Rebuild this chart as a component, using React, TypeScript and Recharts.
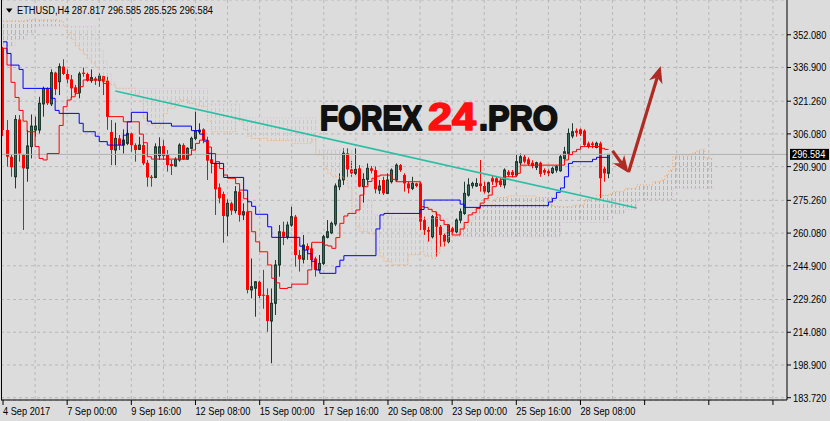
import React from "react";
import {
  ComposedChart,
  Bar,
  Line,
  Area,
  XAxis,
  YAxis,
  CartesianGrid,
  ReferenceLine,
} from "recharts";

const FONT = "'Liberation Sans', Arial, sans-serif";
const NARROW = 0.84; // MT4 uses a narrow bitmap font, squeeze Liberation Sans to match
const BG = "#DCDCDC";
const TOTAL_BARS = 196; // 152 candles + chart shift to the right edge

// ETHUSD H4 candles, bar 0 = left edge of the window
const openP = [
  345.8, 307.9, 295.5, 286.2, 312.8, 296.3, 290.1, 300.2, 307.9, 307.9,
  320.0, 327.2, 320.0, 334.5, 330.3, 337.3, 333.9, 331.4, 327.7, 325.2,
  334.5, 333.9, 330.8, 331.8, 330.8, 332.9, 330.8, 307.0, 298.6, 304.0,
  300.9, 301.7, 306.3, 300.9, 298.9, 300.9, 292.7, 286.2, 285.9, 296.0,
  300.5, 296.3, 292.1, 291.2, 294.0, 300.9, 294.4, 299.4, 304.0, 307.0,
  308.2, 303.2, 294.3, 292.7, 281.3, 278.2, 268.0, 273.9, 270.5, 279.3,
  268.5, 270.0, 233.7, 234.5, 237.5, 231.5, 231.3, 219.3, 227.5, 245.3,
  260.7, 258.4, 263.8, 267.7, 249.9, 247.9, 254.1, 253.0, 248.3, 243.0,
  246.0, 258.1, 260.2, 264.3, 281.6, 284.7, 297.1, 289.6, 287.8, 290.1,
  281.6, 285.0, 290.1, 289.3, 280.0, 284.7, 278.5, 283.9, 284.7, 291.6,
  287.0, 283.1, 280.8, 283.1, 283.1, 266.1, 261.5, 258.4, 267.7, 263.0,
  259.2, 256.1, 262.3, 260.7, 266.1, 269.2, 277.7, 282.1, 281.9, 283.1,
  281.9, 279.3, 285.5, 285.5, 284.5, 282.4, 288.5, 288.5, 287.0, 292.7,
  295.5, 294.3, 292.7, 290.6, 292.7, 289.3, 288.8, 288.1, 289.3, 289.0,
  294.7, 297.0, 305.1, 307.6, 308.2, 307.6, 301.7, 301.7, 299.8, 301.7,
  290.0, 287.817,
];
const highP = [
  346.5, 312.5, 296.3, 314.8, 314.8, 296.8, 307.9, 315.1, 314.1, 323.3,
  328.0, 327.7, 336.0, 334.9, 338.8, 340.7, 336.0, 333.4, 328.8, 334.9,
  336.9, 334.5, 336.0, 332.6, 334.2, 332.9, 332.6, 312.5, 311.3, 305.6,
  308.2, 307.9, 306.6, 301.7, 304.8, 302.5, 294.0, 287.0, 301.7, 304.5,
  303.2, 298.6, 294.0, 295.2, 301.7, 301.7, 299.9, 304.8, 316.4, 311.0,
  308.7, 304.8, 295.5, 294.0, 283.1, 279.3, 275.7, 274.6, 281.9, 280.8,
  273.9, 270.5, 248.3, 237.8, 238.0, 243.0, 234.4, 234.4, 247.6, 263.8,
  265.4, 265.4, 272.3, 268.5, 252.2, 259.2, 255.3, 255.3, 249.1, 249.9,
  259.2, 266.1, 265.4, 283.1, 287.8, 299.4, 299.4, 293.6, 299.4, 291.6,
  287.8, 292.4, 291.2, 290.9, 284.7, 286.2, 287.8, 290.1, 292.4, 292.1,
  287.8, 283.9, 286.2, 283.4, 283.9, 267.7, 263.0, 268.5, 270.0, 263.8,
  259.9, 264.3, 263.0, 266.9, 271.5, 283.9, 285.5, 283.9, 285.5, 294.0,
  283.9, 283.9, 287.0, 286.5, 285.8, 290.1, 289.3, 289.3, 296.3, 297.0,
  296.3, 295.2, 293.9, 293.2, 293.2, 290.1, 289.6, 290.9, 291.6, 296.3,
  300.1, 308.6, 311.0, 308.6, 308.6, 308.2, 302.5, 302.5, 302.5, 302.5,
  290.9, 296.585,
];
const lowP = [
  305.0, 290.9, 286.2, 280.8, 293.2, 261.5, 283.9, 294.7, 304.8, 306.3,
  314.1, 319.5, 319.0, 324.1, 324.1, 333.4, 329.5, 322.6, 324.1, 322.6,
  332.6, 330.3, 329.8, 328.8, 328.0, 324.1, 308.0, 291.6, 291.6, 298.6,
  297.0, 300.9, 297.8, 293.2, 298.6, 291.6, 281.6, 281.6, 285.5, 294.0,
  294.0, 288.6, 287.0, 290.9, 293.2, 294.0, 294.0, 298.9, 303.2, 306.3,
  301.7, 284.7, 287.8, 268.5, 273.9, 255.6, 258.7, 268.5, 269.2, 265.4,
  266.1, 232.1, 229.8, 221.3, 229.8, 225.0, 214.3, 199.7, 222.1, 239.9,
  254.5, 257.2, 263.0, 244.5, 242.2, 246.0, 247.6, 244.5, 239.9, 242.6,
  245.3, 257.6, 259.6, 263.3, 280.0, 282.4, 286.2, 286.2, 287.0, 281.3,
  274.2, 282.4, 287.8, 278.5, 278.2, 277.7, 278.2, 283.1, 283.9, 288.5,
  279.3, 278.5, 280.0, 281.3, 261.5, 259.2, 256.1, 257.6, 249.1, 253.8,
  253.8, 255.3, 260.0, 260.0, 264.6, 268.5, 277.0, 280.8, 281.6, 279.3,
  278.5, 278.5, 282.4, 282.0, 281.5, 280.8, 286.2, 285.9, 286.2, 291.6,
  292.4, 291.2, 290.1, 289.3, 286.2, 287.0, 286.5, 287.5, 288.1, 288.5,
  294.0, 296.3, 304.0, 304.8, 305.1, 300.5, 299.4, 299.4, 299.4, 276.2,
  283.9, 285.525,
];
const closeP = [
  307.9, 295.5, 290.6, 312.8, 297.0, 290.1, 300.5, 309.7, 309.7, 320.3,
  327.2, 320.3, 334.5, 326.8, 337.3, 333.9, 331.4, 327.2, 325.2, 333.9,
  333.9, 330.8, 332.2, 330.8, 332.9, 330.3, 314.0, 298.6, 304.0, 300.9,
  303.2, 306.3, 300.9, 298.6, 300.9, 292.4, 285.9, 285.6, 300.1, 300.1,
  295.8, 291.6, 291.2, 294.3, 300.9, 294.3, 299.4, 304.0, 307.6, 307.8,
  303.2, 293.7, 292.4, 280.4, 276.2, 268.0, 273.9, 270.5, 279.3, 268.5,
  270.0, 233.7, 235.2, 237.5, 230.9, 231.0, 219.3, 227.5, 245.3, 260.7,
  258.4, 263.8, 267.7, 249.9, 247.9, 254.5, 252.2, 247.6, 243.0, 246.0,
  258.4, 260.7, 264.6, 281.9, 284.7, 297.1, 289.6, 287.8, 289.6, 281.6,
  285.0, 290.1, 289.0, 280.4, 281.9, 278.5, 284.7, 289.3, 291.6, 289.3,
  283.1, 280.8, 283.1, 281.9, 265.4, 261.5, 260.7, 267.7, 263.0, 259.2,
  256.1, 263.8, 260.7, 266.1, 270.0, 278.5, 282.4, 283.1, 283.1, 281.9,
  279.3, 283.4, 283.9, 283.5, 282.4, 289.3, 287.0, 287.0, 293.2, 295.5,
  293.2, 292.1, 291.2, 292.7, 287.5, 288.1, 287.8, 290.1, 290.9, 295.5,
  297.8, 306.3, 307.1, 306.6, 306.0, 300.9, 300.1, 300.9, 301.7, 285.5,
  287.8, 296.584,
];

// Ichimoku Tenkan-sen (red): bar where the level changes, and its value
const tenkanBars = [
  0, 1, 2, 3, 4, 5, 6, 8, 9, 10, 11, 14, 15, 16, 17, 18, 19, 20, 25, 26, 30,
  34, 35, 36, 37, 46, 47, 48, 49, 50, 51, 52, 53, 54, 55, 56, 58, 59, 60, 61,
  62, 63, 64, 66, 67, 68, 69, 71, 72, 76, 77, 80, 81, 82, 83, 84, 85, 86, 88,
  89, 90, 91, 92, 93, 94, 97, 98, 104, 105, 106, 107, 108, 109, 110, 111, 112,
  114, 115, 116, 117, 118, 119, 120, 121, 122, 123, 124, 125, 128, 129, 140,
  141, 142, 143, 144, 149, 150, 151,
];
const tenkanVals = [
  345.8, 338, 330, 323, 317, 312, 307.1, 300.2, 294.7, 294.0, 297.0, 310,
  318.7, 321.8, 323.3, 324.9, 328, 331.1, 329.5, 314.1, 311.7, 306, 302, 295.5,
  294.4, 296.3, 298.6, 301.7, 303.2, 302.5, 300, 297, 293.2, 290, 287, 285.5,
  283, 280, 276, 270.0, 260.7, 256, 251.4, 245.3, 239.1, 237, 234.4, 234.8,
  236.4, 243, 255.8, 254.5, 254.1, 253.0, 258, 264.6, 268, 269.2, 270.8, 277.7,
  281.6, 284, 285.5, 286.5, 287.0, 285, 283.9, 272.3, 272, 271.1, 270, 268.5,
  266, 264, 261, 259.2, 262, 265, 268.5, 269.5, 271.5, 274, 276, 277.7, 281.6,
  283.9, 285, 286.2, 287.8, 291.6, 294.0, 296.5, 297.8, 298.9, 300.2, 299.4,
  298.9, 298.9,
];

// Ichimoku Kijun-sen (blue)
const kijunBars = [
  0, 1, 2, 4, 5, 12, 13, 14, 19, 20, 23, 24, 26, 30, 31, 32, 36, 37, 42, 47,
  49, 50, 51, 52, 55, 60, 61, 62, 63, 66, 67, 74, 75, 76, 77, 78, 79, 83, 84,
  85, 93, 94, 95, 104, 105, 114, 115, 119, 136, 137, 138, 139, 140, 141, 142,
  147, 148, 151,
];
const kijunVals = [
  348.8, 343.4, 338.0, 336.0, 327.2, 322.6, 317.0, 315.6, 311, 307.1, 305,
  302.5, 300.9, 305.5, 311.7, 316.1, 312, 311.0, 309.7, 307.6, 306, 303.2,
  297.1, 292.4, 285.9, 280, 274.6, 272.5, 268.8, 263, 258.1, 254, 252.2, 250.5,
  247, 243, 241.4, 244.5, 247.5, 249.6, 262, 268.5, 269.2, 271, 275.4, 273.5,
  272.0, 272.8, 274.5, 276.2, 279, 281, 286.2, 292.4, 293.2, 294.3, 295.2,
  295.2,
];

// Kumo: Senkou Span A (sandy brown) and B (thistle), shifted 26 bars ahead
const cloudBars = [
  0, 3, 6, 8,
  14, 15, 16, 17, 18, 19, 20, 21, 22,
  23, 24, 25, 26, 27,
  28, 31, 33, 34, 35, 36, 38, 39, 40, 41, 43, 44, 46, 48, 50,
  51, 52, 57, 58,
  59, 60, 61, 62, 66, 72, 77,
  78, 80, 81, 82, 85, 86,
  87, 88, 89, 91,
  92, 93, 94, 95,
  97, 101, 104, 105, 107, 108, 109, 110,
  111, 112, 113, 114, 115, 116, 117, 118, 119, 120, 122, 123, 126, 129, 133, 137,
  139, 142, 145, 148,
  151, 152, 155,
  158, 162, 164, 165, 166,
  167, 168, 171, 172, 173, 174, 175, 177,
];
const spanA = [
  358.5, 358.5, 359.0, 359.0,
  358.5, 356.0, 353.0, 350.0, 347.0, 345.0, 343.0, 341.0, 339.0,
  337.0, 333.0, 331.0, 329.5, 328.8,
  327.2, 327.2, 324.5, 323.3, 313.3, 310.2, 308.7, 310.2, 315.6, 318.0, 320.2, 321.8, 320.2, 319.0, 318.7,
  312.0, 307.1, 307.1, 313.0,
  312.0, 308.0, 305.0, 304.0, 303.0, 301.7, 303.2,
  296.3, 290.0, 287.8, 286.2, 284.5, 281.0,
  270.0, 263.0, 260.7, 259.9,
  259.6, 252.2, 249.1, 246.8,
  245.3, 250.0, 251.4, 249.4, 248.4, 250.7, 253.8, 256.1,
  258.4, 258.4, 259.2, 262.0, 263.8, 266.1, 268.5, 271.1, 272.3, 273.1, 275.4, 276.6, 277.3, 277.3, 276.6, 272.5,
  272.3, 273.0, 275.7, 277.7,
  278.2, 279.3, 280.8,
  282.4, 283.9, 284.7, 287.0, 289.3,
  295.5, 296.3, 296.3, 297.5, 298.3, 298.9, 294.8, 294.8,
];
const spanB = [
  347.0, 350.0, 353.0, 356.0,
  356.0, 356.0, 356.0, 356.0, 356.0, 356.0, 356.0, 356.0, 356.0,
  350.0, 345.0, 340.0, 334.0, 330.0,
  327.2, 327.2, 327.2, 327.2, 327.2, 327.2, 327.2, 327.2, 327.2, 327.2, 327.2, 327.2, 327.2, 327.2, 327.2,
  320.0, 320.0, 320.0, 320.0,
  313.5, 313.5, 313.5, 313.5, 313.5, 313.5, 313.5,
  298.6, 298.6, 298.6, 298.6, 298.6, 298.6,
  275.4, 275.4, 275.4, 275.4,
  268.5, 268.5, 268.5, 268.5,
  266.9, 266.9, 266.9, 266.9, 266.9, 266.9, 266.9, 266.9,
  258.4, 258.4, 258.4, 258.4, 258.4, 258.4, 258.4, 258.4, 258.4, 258.4, 258.4, 258.4, 258.4, 258.4, 258.4, 258.4,
  265.0, 265.0, 265.0, 265.0,
  269.2, 269.2, 271.0,
  275.4, 275.4, 275.4, 275.4, 275.4,
  280.8, 280.8, 280.8, 280.8, 280.8, 280.8, 280.8, 280.8,
];
// which stretch of the cloud is bullish (A over B) or bearish
const cloudSegments = [
  { key: "kumoUp1", from: 0, to: 15, fill: "url(#hatchUp)" },
  { key: "kumoDown", from: 15, to: 111, fill: "url(#hatchDown)" },
  { key: "kumoUp2", from: 111, to: 177, fill: "url(#hatchUp)" },
];

const xLabels = [
  "4 Sep 2017", "7 Sep 00:00", "9 Sep 16:00", "12 Sep 08:00", "15 Sep 00:00",
  "17 Sep 16:00", "20 Sep 08:00", "23 Sep 00:00", "25 Sep 16:00", "28 Sep 08:00",
];
const yTicks = [
  183.72, 198.9, 214.08, 229.26, 244.9, 260.08, 275.26, 290.9, 306.08, 321.26,
  336.9, 352.08,
];

// drawn objects (bar index, price)
const trendLine = [{ bar: 28, price: 326.0 }, { bar: 158, price: 271.7 }];
const arrowUp = [{ bar: 156, price: 288.4 }, { bar: 164, price: 337.6 }];
const arrowDown = [{ bar: 152, price: 298.2 }, { bar: 156, price: 288.0 }];

const last = closeP.length - 1;

const rows: any[] = [];
for (let i = 0; i < TOTAL_BARS; i++) {
  const r: any = { i };
  if (i <= last) {
    r.range = [lowP[i], highP[i]];
    r.o = openP[i];
    r.c = closeP[i];
  }
  rows.push(r);
}
tenkanBars.forEach((b, k) => (rows[b].tenkan = tenkanVals[k]));
kijunBars.forEach((b, k) => (rows[b].kijun = kijunVals[k]));
cloudBars.forEach((b, k) => {
  const a = spanA[k];
  const bb = spanB[k];
  rows[b].spanA = a;
  rows[b].spanB = bb;
  cloudSegments.forEach((s) => {
    if (b >= s.from && b <= s.to) rows[b][s.key] = [Math.min(a, bb), Math.max(a, bb)];
  });
});

function Candle(props: any) {
  const { x, y, width, height, payload } = props;
  if (!payload || payload.range == null) return null;
  const [lo, hi] = payload.range;
  let top = y;
  let h = height;
  if (h < 0) {
    top = y + h;
    h = -h;
  }
  const span = hi - lo || 1;
  const py = (v: number) => top + ((hi - v) / span) * h;
  const cx = Math.floor(x + width / 2);
  const up = payload.c >= payload.o;
  const bTop = py(Math.max(payload.o, payload.c));
  const bBot = py(Math.min(payload.o, payload.c));
  const wick = up ? "#1E3A31" : "#FF0000";
  return (
    <g>
      <line x1={cx + 0.5} x2={cx + 0.5} y1={top} y2={top + h} stroke={wick} strokeWidth={1} />
      {up ? (
        <rect x={cx - 0.5} y={bTop} width={2} height={Math.max(1, bBot - bTop)} fill="#3B6B5A" stroke="#1E3A31" strokeWidth={1} />
      ) : (
        <rect x={cx - 1} y={bTop} width={3} height={Math.max(1, bBot - bTop)} fill="#FF0000" />
      )}
    </g>
  );
}

const ARROW = "#AE2A22";
function ArrowShape(props: any) {
  const { x1, y1, x2, y2 } = props;
  const dx = x2 - x1;
  const dy = y2 - y1;
  const len = Math.hypot(dx, dy) || 1;
  const ux = dx / len;
  const uy = dy / len;
  const head = 17;
  const half = 7;
  const bx = x2 - ux * head;
  const by = y2 - uy * head;
  const nx = bx + ux * 5;
  const ny = by + uy * 5;
  const px = -uy;
  const py = ux;
  return (
    <g>
      <line x1={x1} y1={y1} x2={nx} y2={ny} stroke={ARROW} strokeWidth={3.2} />
      <polygon
        points={`${x2},${y2} ${bx + px * half},${by + py * half} ${nx},${ny} ${bx - px * half},${by - py * half}`}
        fill={ARROW}
      />
    </g>
  );
}

function NarrowText({ x, y, children, fill = "#000", dy }: any) {
  return (
    <text
      transform={`translate(${x},${y}) scale(${NARROW},1)`}
      dy={dy}
      fontSize={11}
      fontFamily={FONT}
      fill={fill}
      textAnchor="start"
    >
      {children}
    </text>
  );
}

function PriceTag(props: any) {
  const vb = props.viewBox || {};
  const x = (vb.x || 0) + (vb.width || 0) + 3;
  const y = vb.y || 0;
  return (
    <g>
      <rect x={x} y={y - 5.5} width={39} height={11} fill="#000" />
      <NarrowText x={x + 2} y={y + 4} fill="#fff">
        {closeP[last].toFixed(3)}
      </NarrowText>
    </g>
  );
}

function XTick(props: any) {
  const { x, y, payload } = props;
  const idx = Number(payload.value);
  const label = idx % 16 === 0 ? xLabels[idx / 16] || "" : "";
  return (
    <NarrowText x={x} y={y + 8}>
      {label}
    </NarrowText>
  );
}

function YTick(props: any) {
  const { x, y, payload } = props;
  return (
    <NarrowText x={x} y={y} dy="0.355em">
      {Number(payload.value).toFixed(3)}
    </NarrowText>
  );
}

export default function App() {
  const header = `ETHUSD,H4  ${openP[last].toFixed(3)} ${highP[last].toFixed(3)} ${lowP[last].toFixed(3)} ${closeP[last].toFixed(3)}`;
  return (
    <div style={{ position: "absolute", left: 0, top: 0, width: 830, height: 421, background: BG, overflow: "hidden" }}>
      <svg width={0} height={0} style={{ position: "absolute" }}>
        <defs>
          <pattern id="hatchUp" patternUnits="userSpaceOnUse" width={4} height={6} x={1}>
            <line x1={2.5} y1={0} x2={2.5} y2={4} stroke="#F4A460" strokeWidth={1} />
          </pattern>
          <pattern id="hatchDown" patternUnits="userSpaceOnUse" width={4} height={6} x={1}>
            <line x1={2.5} y1={0} x2={2.5} y2={4} stroke="#D8BFD8" strokeWidth={1} />
          </pattern>
        </defs>
      </svg>
      <ComposedChart
        width={830}
        height={421}
        data={rows}
        margin={{ top: 0, right: 0, bottom: 0, left: 1 }}
        barCategoryGap={0}
      >
        <CartesianGrid
          stroke="#B8B8B8"
          strokeDasharray="3 3"
          verticalCoordinatesGenerator={({ offset }: any) => {
            const out: number[] = [];
            for (let b = 8; b < TOTAL_BARS; b += 8) out.push(offset.left + ((b + 0.5) * offset.width) / TOTAL_BARS);
            return out;
          }}
        />
        <XAxis
          dataKey="i"
          interval={15}
          height={21}
          tickSize={5}
          tick={<XTick />}
          axisLine={{ stroke: "#000" }}
          tickLine={{ stroke: "#000" }}
        />
        <YAxis
          orientation="right"
          width={43}
          domain={[182.65, 368.2]}
          allowDataOverflow
          ticks={yTicks}
          interval={0}
          tickSize={4}
          tickMargin={2}
          tick={<YTick />}
          axisLine={{ stroke: "#000" }}
          tickLine={{ stroke: "#000" }}
        />
        {cloudSegments.map((s) => (
          <Area
            key={s.key}
            dataKey={s.key}
            type="stepAfter"
            stroke="none"
            fill={s.fill}
            fillOpacity={1}
            connectNulls
            dot={false}
            activeDot={false}
            isAnimationActive={false}
          />
        ))}
        <Line dataKey="spanA" type="stepAfter" stroke="#F4A460" strokeDasharray="1 2" dot={false} activeDot={false} connectNulls isAnimationActive={false} />
        <Line dataKey="spanB" type="stepAfter" stroke="#D8BFD8" strokeDasharray="1 2" dot={false} activeDot={false} connectNulls isAnimationActive={false} />
        <ReferenceLine y={closeP[last]} stroke="#B0B0B0" label={<PriceTag />} />
        <Bar dataKey="range" shape={<Candle />} isAnimationActive={false} />
        <Line dataKey="tenkan" type="stepAfter" stroke="#FF0000" strokeWidth={1} dot={false} activeDot={false} connectNulls isAnimationActive={false} />
        <Line dataKey="kijun" type="stepAfter" stroke="#0000FF" strokeWidth={1} dot={false} activeDot={false} connectNulls isAnimationActive={false} />
        <ReferenceLine
          segment={[{ x: trendLine[0].bar, y: trendLine[0].price }, { x: trendLine[1].bar, y: trendLine[1].price }]}
          stroke="#2BBFA4"
          strokeWidth={1.6}
        />
        <ReferenceLine
          segment={[{ x: arrowUp[0].bar, y: arrowUp[0].price }, { x: arrowUp[1].bar, y: arrowUp[1].price }]}
          shape={(p: any) => <ArrowShape {...p} />}
        />
        <ReferenceLine
          segment={[{ x: arrowDown[0].bar, y: arrowDown[0].price }, { x: arrowDown[1].bar, y: arrowDown[1].price }]}
          shape={(p: any) => <ArrowShape {...p} />}
        />
      </ComposedChart>
      <svg width={830} height={421} style={{ position: "absolute", left: 0, top: 0, pointerEvents: "none" }}>
        <line x1={1.5} y1={0} x2={1.5} y2={400} stroke="#000" strokeWidth={1} />
        <polygon points="6,8.5 12.5,8.5 9.2,12.8" fill="#000" />
        <g style={{ whiteSpace: "pre" }}>
          <NarrowText x={17} y={14}>
            {header}
          </NarrowText>
        </g>
        <g fontFamily="'Liberation Sans', Arial, sans-serif" fontWeight="bold">
          <text x={320} y={130} fontSize={35} fill="#111" stroke="#111" strokeWidth={2} strokeLinejoin="round" textLength={102} lengthAdjust="spacingAndGlyphs">
            FOREX
          </text>
          <text x={428} y={129.5} fontSize={38} fill="#FF0F0F" stroke="#FF0F0F" strokeWidth={1.6} strokeLinejoin="round" textLength={48} lengthAdjust="spacingAndGlyphs">
            24
          </text>
          <text x={479} y={130} fontSize={35} fill="#111" stroke="#111" strokeWidth={2} strokeLinejoin="round" textLength={79} lengthAdjust="spacingAndGlyphs">
            .PRO
          </text>
        </g>
      </svg>
    </div>
  );
}
